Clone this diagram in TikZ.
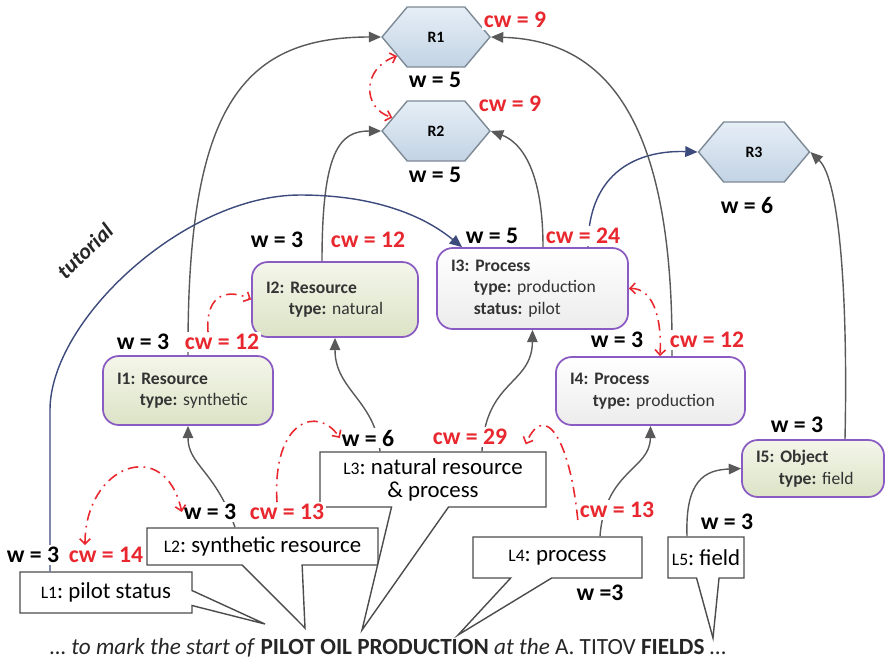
\documentclass[tikz,border=0pt]{standalone}
\usepackage{fontspec}
\setmainfont{Carlito}
\usetikzlibrary{shapes.symbols,shapes.callouts,arrows.meta}

\definecolor{cwred}{HTML}{E8282E}
\definecolor{linkgray}{HTML}{595959}
\definecolor{tutblue}{HTML}{3C4A7C}
\definecolor{hexedge}{HTML}{7D8A96}
\definecolor{hextop}{HTML}{E6EEF6}
\definecolor{hexbot}{HTML}{C2D3E4}
\definecolor{boxedge}{HTML}{8A5BC2}
\definecolor{greentop}{HTML}{F4F6EA}
\definecolor{greenbot}{HTML}{DCE3C6}
\definecolor{graybot}{HTML}{ECECEC}

\newcommand\lexid[1]{{\fontsize{10}{12}\selectfont #1}}
\frenchspacing

\begin{document}
\begin{tikzpicture}[x=0.02cm, y=-0.02cm,
    hexa/.style={signal, signal to=west and east, signal pointer angle=100, draw=hexedge, line width=0.8pt,
      top color=hextop, bottom color=hexbot, minimum width=2.16cm, minimum height=1.2cm, inner sep=0pt,
      font=\fontsize{9}{10}\selectfont\bfseries},
    item/.style={rectangle, rounded corners=9pt, draw=boxedge, line width=1pt, inner xsep=8pt, inner ysep=3pt,
      align=left, font=\fontsize{10}{12.2}\selectfont, text=black!80},
    itemgreen/.style={item, top color=greentop, bottom color=greenbot},
    itemgray/.style={item, top color=white, bottom color=graybot},
    lex/.style={rectangle callout, draw=black!70, line width=0.8pt, fill=white, inner sep=2pt, align=center,
      font=\fontsize{13}{13}\selectfont},
    wlab/.style={fill=white, inner sep=1pt, font=\fontsize{13.5}{15}\selectfont\bfseries},
    cwlab/.style={wlab, text=cwred},
    link/.style={draw=linkgray, line width=0.8pt, -{Triangle[length=7pt,width=6pt]}},
    tut/.style={link, draw=tutblue},
    cwflow/.style={draw=cwred, line width=0.9pt, dash pattern=on 6pt off 3pt on 1pt off 3pt,
      -{Straight Barb[length=3pt,width=6pt]}},
    cwboth/.style={cwflow, {Straight Barb[length=3pt,width=6pt]}-{Straight Barb[length=3pt,width=6pt]}},
  ]
  \useasboundingbox (0,0) rectangle (886,664);

  % resources
  \node[hexa] (R1) at (436,37) {R1};
  \node[hexa] (R2) at (436,131) {R2};
  \node[hexa, minimum width=2.22cm] (R3) at (754,152) {R3};

  % instances
  \node[itemgreen, text width=2.84cm, minimum height=1.38cm] (I1) at (188,390.5)
    {\textbf{I1: Resource}\\\hspace*{1.3em}\textbf{type:} synthetic};
  \node[itemgreen, text width=2.76cm, minimum height=1.5cm] (I2) at (335,299.5)
    {\textbf{I2: Resource}\\\hspace*{1.3em}\textbf{type:} natural};
  \node[itemgray, text width=3.26cm, minimum height=1.62cm] (I3) at (532.5,288.5)
    {\textbf{I3: Process}\\\hspace*{1.3em}\textbf{type:} production\\\hspace*{1.3em}\textbf{status:} pilot};
  \node[itemgray, text width=3.22cm, minimum height=1.36cm] (I4) at (650.5,391)
    {\textbf{I4: Process}\\\hspace*{1.3em}\textbf{type:} production};
  \node[itemgreen, text width=2.28cm, minimum height=1.14cm] (I5) at (813,468.5)
    {\textbf{I5: Object}\\\hspace*{1.3em}\textbf{type:} field};

  % lexical callouts
  \node[lex, minimum width=3.44cm, minimum height=0.82cm, callout absolute pointer={(265,624)},
    callout pointer width=0.3cm] (L1) at (106,592.5) {\lexid{L1}: pilot status};
  \node[lex, minimum width=4.62cm, minimum height=0.74cm, callout absolute pointer={(305,628)},
    callout pointer width=1.2cm] (L2) at (262.5,546.5) {\lexid{L2}: synthetic resource};
  \node[lex, minimum width=4.52cm, minimum height=1.1cm, callout absolute pointer={(362,630)},
    callout pointer width=1.14cm] (L3) at (433,479.5) {\lexid{L3}: natural resource\\\& process};
  \node[lex, minimum width=3.38cm, minimum height=0.82cm, callout absolute pointer={(458,635)},
    callout pointer width=0.82cm] (L4) at (557.5,557.5) {\lexid{L4}: process};
  \node[lex, minimum width=1.52cm, minimum height=0.82cm, callout absolute pointer={(713,638)},
    callout pointer width=0.45cm] (L5) at (706,557.5) {\lexid{L5}: field};

  % links
  \draw[link] (I1.north) .. controls (187,110) and (240,37) .. (R1.west);
  \draw[link] ([xshift=-0.26cm]I2.north) .. controls (322,150) and (340,131) .. (R2.west);
  \draw[link] ([xshift=0.21cm]I3.north) .. controls (543,160) and (515,140) .. (R2.east);
  \draw[tut] ([xshift=1.11cm]I3.north) .. controls (588,170) and (640,150) .. (R3.west);
  \draw[link] ([xshift=0.43cm]I4.north) .. controls (674,110) and (600,40) .. (R1.east);
  \draw[link] ([xshift=0.64cm]I5.north) .. controls (848,300) and (840,180) .. (R3.east);
  \draw[tut] ([xshift=-1.12cm]L1.north) -- (50,410) .. controls (50,320) and (185,195) .. (300,195)
    .. controls (390,195) and (435,225) .. ([xshift=-1.41cm]I3.north);
  \draw[link] ([xshift=-0.55cm]L2.north) .. controls (215,470) and (188,465) .. (I1.south);
  \draw[link] ([xshift=-1.06cm]L3.north) .. controls (375,400) and (335,390) .. (I2.south);
  \draw[link] ([xshift=0.98cm]L3.north) .. controls (485,380) and (532,385) .. (I3.south);
  \draw[link] ([xshift=0.85cm]L4.north) .. controls (605,470) and (650,470) .. (I4.south);
  \draw[link] ([xshift=-0.38cm]L5.north) .. controls (685,480) and (705,470) .. (I5.west);

  % weights
  \node[cwlab] (cwRone) at (515,20) {cw = 9};
  \node[wlab] (wRone) at (435,80) {w = 5};
  \node[cwlab] (cwRtwo) at (510,104) {cw = 9};
  \node[wlab] (wRtwo) at (435,175) {w = 5};
  \node[wlab] (wRthree) at (747,205) {w = 6};
  \node[wlab] (wIone) at (143,342) {w = 3};
  \node[cwlab] (cwIone) at (222,342) {cw = 12};
  \node[wlab] (wItwo) at (277,240) {w = 3};
  \node[cwlab] (cwItwo) at (368,240) {cw = 12};
  \node[wlab] (wIthree) at (492,236) {w = 5};
  \node[cwlab] (cwIthree) at (583,236) {cw = 24};
  \node[wlab] (wIfour) at (617,340) {w = 3};
  \node[cwlab] (cwIfour) at (707,340) {cw = 12};
  \node[wlab] (wIfive) at (797,425) {w = 3};
  \node[wlab] (wLone) at (33,555) {w = 3};
  \node[cwlab] (cwLone) at (106,555) {cw = 14};
  \node[wlab] (wLtwo) at (210,512) {w = 3};
  \node[cwlab] (cwLtwo) at (287,512) {cw = 13};
  \node[wlab] (wLthree) at (368,438) {w = 6};
  \node[cwlab] (cwLthree) at (470,437) {cw = 29};
  \node[cwlab] (cwLfour) at (617,510) {cw = 13};
  \node[wlab] (wLfour) at (600,593) {w =3};
  \node[wlab] (wLfive) at (727,522) {w = 3};

  % weight flow
  \draw[cwboth] (R1.206) .. controls (362,68) and (362,108) .. (R2.163);
  \draw[cwflow] ([xshift=-0.28cm]cwIone.north) .. controls (205,290) and (232,290) .. (I2.west);
  \draw[cwboth] (I3.east) .. controls (652,288) and (662,315) .. ([xshift=0.19cm]I4.north);
  \draw[cwboth] ([xshift=-0.42cm]cwLone.north) .. controls (85,465) and (165,435) .. (wLtwo.west);
  \draw[cwflow] ([xshift=-0.2cm]cwLtwo.north) .. controls (272,420) and (318,405) .. (wLthree.west);
  \draw[cwflow] (cwLfour.south west) .. controls (570,440) and (545,400) .. ([xshift=-0.42cm,yshift=0.14cm]L3.north east);

  \node[rotate=44, text=black!85, font=\fontsize{12.5}{14}\selectfont\bfseries\itshape] (tutlab) at (85,251) {tutorial};

  \node[font=\fontsize{13.2}{15}\selectfont, text=black!85] (sent) at (388,648)
    {\textit{\dots\ to mark the start of} \textbf{PILOT OIL PRODUCTION} \textit{at the} A.~TITOV \textbf{FIELDS} \dots};
\end{tikzpicture}
\end{document}
